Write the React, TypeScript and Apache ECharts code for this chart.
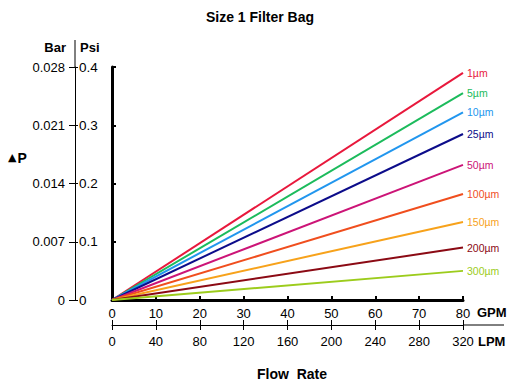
import React, { useEffect, useRef } from "react";
import * as echarts from "echarts";

const gpmTicks = [0, 10, 20, 30, 40, 50, 60, 70, 80];
const flowGpm = [0, 80];
const sizes = ["1µm", "5µm", "10µm", "25µm", "50µm", "100µm", "150µm", "200µm", "300µm"];
const psiAt80 = [0.39, 0.355, 0.322, 0.285, 0.232, 0.182, 0.134, 0.09, 0.05];
const colors = ["#e8183c", "#1cbb5c", "#2196ee", "#0c0c8a", "#cc1477", "#f04e1e", "#f7a21b", "#8b0a14", "#9ccc1c"];

const FONT = "Liberation Sans, Arial, sans-serif";

export default function App() {
  const ref = useRef<HTMLDivElement>(null);
  useEffect(() => {
    if (!ref.current) return;
    const chart = echarts.init(ref.current, undefined, { renderer: "svg" });
    const series = sizes.map((name, i) => ({
      name,
      type: "line",
      xAxisIndex: 0,
      yAxisIndex: 0,
      data: flowGpm.map((g) => [g, (psiAt80[i] * g) / 80]),
      showSymbol: false,
      symbol: "none",
      lineStyle: { color: colors[i], width: 2 },
      itemStyle: { color: colors[i] },
      endLabel: {
        show: true,
        formatter: name,
        color: colors[i],
        fontSize: 10.5,
        fontFamily: FONT,
        distance: 4,
      },
    }));
    chart.setOption({
      animation: false,
      backgroundColor: "#fff",
      textStyle: { fontFamily: FONT },
      grid: { left: 112, right: 57, top: 67, bottom: 89 },
      xAxis: [
        {
          type: "value",
          min: 0,
          max: 80,
          interval: 10,
          position: "bottom",
          axisLine: { show: true, lineStyle: { color: "#000", width: 3 } },
          axisTick: { show: true, inside: true, length: 4, lineStyle: { color: "#000", width: 2 } },
          axisLabel: { color: "#000", fontSize: 13, fontFamily: FONT, margin: 7 },
          splitLine: { show: false },
        },
        {
          type: "value",
          min: 0,
          max: 320,
          interval: 40,
          position: "bottom",
          offset: 25,
          axisLine: { show: true, onZero: false, lineStyle: { color: "#000", width: 1 } },
          axisTick: { show: true, length: 5, lineStyle: { color: "#000" } },
          axisLabel: { color: "#000", fontSize: 13, fontFamily: FONT, margin: 10 },
          splitLine: { show: false },
        },
        {
          type: "value",
          min: 0,
          max: 320,
          interval: 40,
          position: "bottom",
          offset: 25,
          axisLine: { show: false, onZero: false },
          axisTick: { show: true, inside: true, length: 5, lineStyle: { color: "#000" } },
          axisLabel: { show: false },
          splitLine: { show: false },
        },
      ],
      yAxis: [
        {
          type: "value",
          min: 0,
          max: 0.4,
          interval: 0.1,
          position: "left",
          axisLine: { show: true, lineStyle: { color: "#000", width: 3 } },
          axisTick: { show: true, inside: true, length: 4, lineStyle: { color: "#000", width: 2 } },
          axisLabel: { show: false },
          splitLine: { show: false },
        },
        {
          type: "value",
          min: 0,
          max: 0.028,
          interval: 0.007,
          position: "left",
          offset: 37,
          axisLine: { show: true, onZero: false, lineStyle: { color: "#000", width: 1 } },
          axisTick: { show: true, length: 6, lineStyle: { color: "#000" } },
          axisLabel: {
            color: "#000",
            fontSize: 13,
            fontFamily: FONT,
            margin: 10,
            formatter: (v: number) => (v === 0 ? "0" : v.toFixed(3)),
          },
          splitLine: { show: false },
        },
        {
          type: "value",
          min: 0,
          max: 0.4,
          interval: 0.1,
          position: "left",
          offset: 37,
          axisLine: { show: false, onZero: false },
          axisTick: { show: true, inside: true, length: 3, lineStyle: { color: "#000" } },
          axisLabel: {
            inside: true,
            color: "#000",
            fontSize: 13.5,
            fontFamily: FONT,
            margin: 4,
            verticalAlign: "middle",
            padding: [0, 0, 4, 0],
            formatter: (v: number) => (v === 0 ? "0" : String(Math.round(v * 10) / 10)),
          },
          splitLine: { show: false },
        },
      ],
      graphic: [
        {
          type: "text",
          left: "center",
          top: 10,
          style: { text: "Size 1 Filter Bag", font: `bold 14px ${FONT}`, fill: "#000", x: 28 },
        },
        {
          type: "line",
          shape: { x1: 75, y1: 40, x2: 75, y2: 67 },
          style: { stroke: "#000", lineWidth: 1 },
        },
        {
          type: "line",
          shape: { x1: 463, y1: 325, x2: 504, y2: 325 },
          style: { stroke: "#000", lineWidth: 1 },
        },
        {
          type: "text",
          x: 66,
          y: 47,
          style: { text: "Bar", font: `bold 13px ${FONT}`, fill: "#000", align: "right", verticalAlign: "middle" },
        },
        {
          type: "text",
          x: 80,
          y: 47,
          style: { text: "Psi", font: `bold 13px ${FONT}`, fill: "#000", align: "left", verticalAlign: "middle" },
        },
        {
          type: "text",
          x: 8,
          y: 158,
          style: {
            text: "{t|▲}{p|P}",
            verticalAlign: "middle",
            rich: {
              t: { fontSize: 11, fontFamily: "DejaVu Sans, sans-serif", fill: "#000", padding: [0, 1, 1, 0] },
              p: { fontSize: 14, fontWeight: "bold", fontFamily: FONT, fill: "#000" },
            },
          },
        },
        {
          type: "text",
          x: 477,
          y: 312,
          style: { text: "GPM", font: `bold 13px ${FONT}`, fill: "#000", align: "left", verticalAlign: "middle" },
        },
        {
          type: "text",
          x: 478,
          y: 341,
          style: { text: "LPM", font: `bold 13px ${FONT}`, fill: "#000", align: "left", verticalAlign: "middle" },
        },
        {
          type: "text",
          x: 292,
          y: 374,
          style: { text: "Flow  Rate", font: `bold 14px ${FONT}`, fill: "#000", align: "center", verticalAlign: "middle" },
        },
      ],
      series,
    });
    return () => chart.dispose();
  }, []);
  return (
    <div
      ref={ref}
      style={{ position: "fixed", left: 0, top: 0, width: 520, height: 389, background: "#fff" }}
    />
  );
}
